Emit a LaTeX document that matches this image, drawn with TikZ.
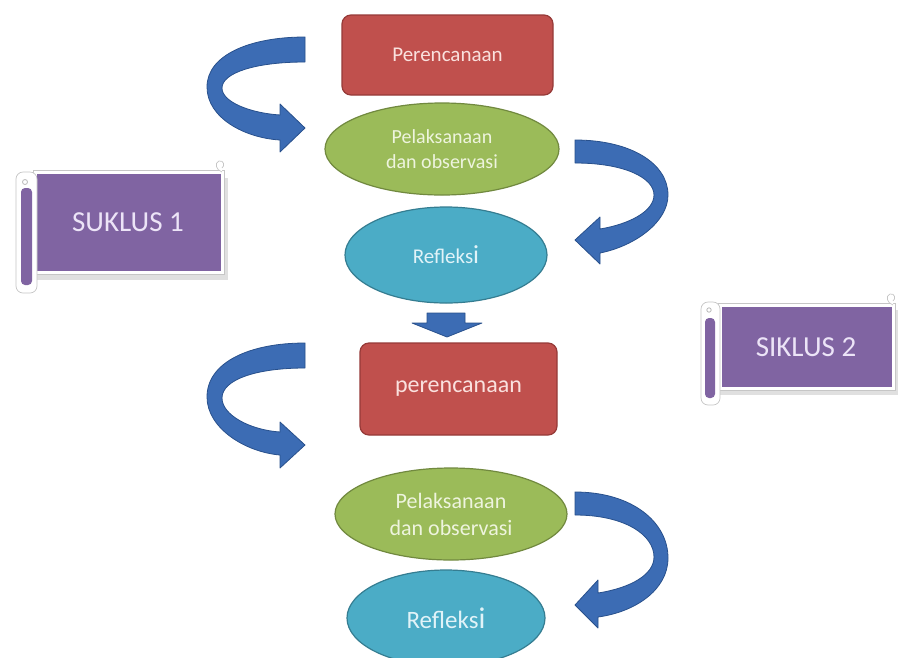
\documentclass[tikz,border=0pt]{standalone}
\usepackage{fontspec}
\setmainfont{Carlito}
\usetikzlibrary{shapes.geometric}
\definecolor{boxred}{RGB}{192,80,77}
\definecolor{boxreddark}{RGB}{150,58,56}
\definecolor{boxgreen}{RGB}{155,187,89}
\definecolor{boxgreendark}{RGB}{113,137,63}
\definecolor{boxcyan}{RGB}{75,172,198}
\definecolor{boxcyandark}{RGB}{53,125,145}
\definecolor{purp}{RGB}{128,100,162}
\definecolor{arrowblue}{RGB}{60,108,180}
\definecolor{arrowdark}{RGB}{40,80,140}
\definecolor{txtred}{RGB}{250,225,222}
\definecolor{txtgreen}{RGB}{238,244,222}
\definecolor{txtcyan}{RGB}{225,243,248}
\definecolor{txtpurp}{RGB}{236,228,247}
\tikzset{
  redbox/.style={draw=boxreddark, fill=boxred, line width=1.2pt, rounded corners=9pt, text=txtred, inner sep=0pt},
  greenell/.style={ellipse, draw=boxgreendark, fill=boxgreen, line width=1.2pt, text=txtgreen, inner sep=0pt, align=center},
  cyanell/.style={ellipse, draw=boxcyandark, fill=boxcyan, line width=1.2pt, text=txtcyan, inner sep=0pt},
  blockarrow/.style={fill=arrowblue, draw=arrowdark, line width=0.8pt, line join=round},
  scrolltext/.style={text=txtpurp, font=\fontsize{29}{29}\selectfont},
  scrollbody/.style={fill=purp, draw=white, line width=3pt},
  scrollrim/.style={draw=gray!45, line width=0.7pt},
  scrollroll/.style={fill=white, draw=gray!45, line width=0.7pt, rounded corners=7pt},
  scrollstrip/.style={fill=purp, rounded corners=4pt},
  shadowfill/.style={fill=black, opacity=0.12}
}
\begin{document}
\begin{tikzpicture}[x=1pt,y=-1pt]
\useasboundingbox (0,0) rectangle (902,657);
\fill[white] (0,0) rectangle (902,657);

% ---------- main flow ----------
\node[redbox, minimum width=211pt, minimum height=80pt, font=\fontsize{21}{21}\selectfont] (p1) at (447.5,55) {Perencanaan};
\node[greenell, minimum width=234pt, minimum height=92pt, font=\fontsize{20}{25}\selectfont] (g1) at (442,149) {Pelaksanaan\\dan observasi};
\node[cyanell, minimum width=202pt, minimum height=96pt, font=\fontsize{21}{21}\selectfont] (r1) at (446,255) {Refleks{\fontsize{26}{26}\selectfont i}};

\node[redbox, minimum width=197pt, minimum height=92pt, font=\fontsize{24}{24}\selectfont] (p2) at (458.5,389) {perencanaan};
\node[greenell, minimum width=232pt, minimum height=92pt, font=\fontsize{22}{27}\selectfont] (g2) at (451,514) {Pelaksanaan\\dan observasi};
\node[cyanell, minimum width=198pt, minimum height=96pt, font=\fontsize{25}{25}\selectfont] (r2) at (446,618) {Refleks{\fontsize{30}{30}\selectfont i}};

% down arrow between r1 and p2
\fill[blockarrow] (427,313) -- (465,313) -- (465,323) -- (482,323) -- (447,337) -- (412,323) -- (427,323) -- cycle;

% ---------- curved block arrows ----------
% top left
\filldraw[blockarrow] (305,37) .. controls (250,37) and (207,55) .. (207,87)
  .. controls (207,118) and (245,138) .. (280,140) -- (280,152) -- (305,128) -- (280,104) -- (280,115)
  .. controls (250,113) and (222,102) .. (222,88) .. controls (222,73) and (255,62) .. (305,62) -- cycle;
% top right
\filldraw[blockarrow] (575,140) .. controls (630,140) and (668,163) .. (668,195)
  .. controls (668,222) and (635,246) .. (600,253) -- (600,264) -- (575,240) -- (600,217) -- (600,229)
  .. controls (630,224) and (654,211) .. (654,195) .. controls (654,178) and (625,163) .. (575,163) -- cycle;
% bottom left
\filldraw[blockarrow] (305,343) .. controls (250,343) and (207,362) .. (207,397)
  .. controls (207,428) and (245,452) .. (280,455) -- (280,468) -- (305,445) -- (280,422) -- (280,432)
  .. controls (250,430) and (222,415) .. (222,398) .. controls (222,380) and (255,368) .. (305,368) -- cycle;
% bottom right
\filldraw[blockarrow] (575,492) .. controls (632,492) and (668,522) .. (668,558)
  .. controls (668,590) and (635,612) .. (598,617) -- (598,628) -- (575,605) -- (598,580) -- (598,593)
  .. controls (630,588) and (654,575) .. (654,557) .. controls (654,535) and (625,515) .. (575,515) -- cycle;

% ---------- scroll SUKLUS 1 ----------
\fill[shadowfill] (20,178) rectangle (228,280);
\draw[scrollrim] (33,170) rectangle (224,274);
\filldraw[scrollbody] (35,172) rectangle (222,272);
\draw[fill=white, draw=gray!45, line width=0.7pt] (222,172) .. controls (216,170) and (214,163) .. (219,161) .. controls (224,160) and (225,166) .. (222,168);
\filldraw[scrollroll] (16,172) rectangle (37,293);
\fill[scrollstrip] (21,188) rectangle (32,285);
\draw[gray!55, line width=0.8pt] (25,182) circle (2.5pt);
\node[scrolltext] (s1) at (128,222) {SUKLUS 1};

% ---------- scroll SIKLUS 2 ----------
\fill[shadowfill] (705,310) rectangle (898,395);
\draw[scrollrim] (718,303) rectangle (895,390);
\filldraw[scrollbody] (720,305) rectangle (893,388);
\draw[fill=white, draw=gray!45, line width=0.7pt] (893,305) .. controls (887,303) and (885,296) .. (890,294) .. controls (895,293) and (896,299) .. (893,301);
\filldraw[scrollroll] (701,302) rectangle (720,405);
\fill[scrollstrip] (705,318) rectangle (715,398);
\draw[gray!55, line width=0.8pt] (709,310) circle (2.2pt);
\node[scrolltext] (s2) at (806,347) {SIKLUS 2};
\end{tikzpicture}
\end{document}
